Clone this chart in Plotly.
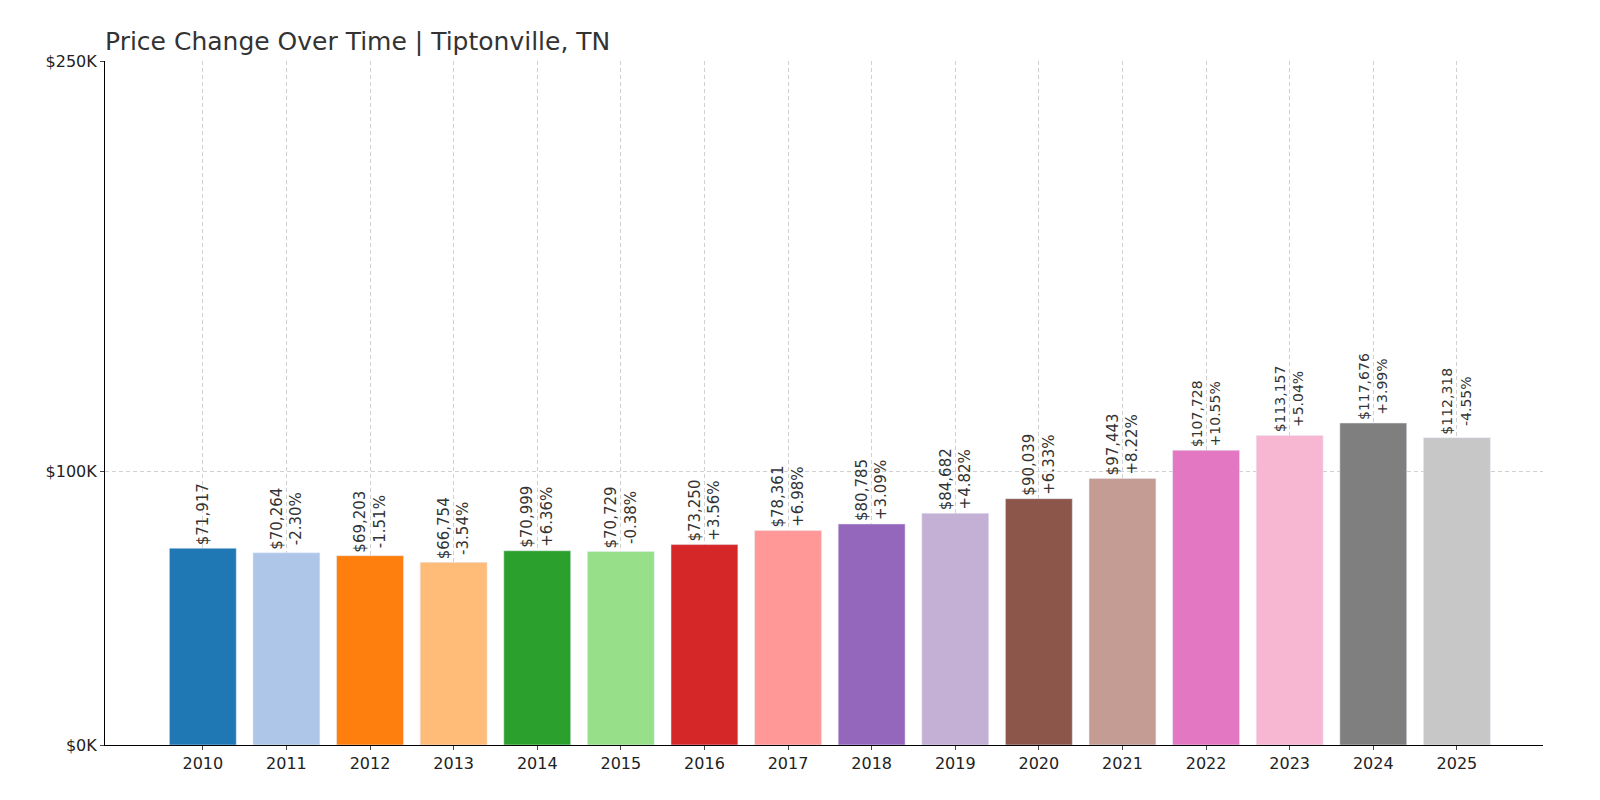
import plotly.graph_objects as go

years = [str(y) for y in range(2010, 2026)]
values = [71917, 70264, 69203, 66754, 70999, 70729, 73250, 78361, 80785, 84682, 90039, 97443, 107728, 113157, 117676, 112318]
changes = [None, "-2.30%", "-1.51%", "-3.54%", "+6.36%", "-0.38%", "+3.56%", "+6.98%", "+3.09%", "+4.82%", "+6.33%", "+8.22%", "+10.55%", "+5.04%", "+3.99%", "-4.55%"]
colors = ["#1f77b4", "#aec7e8", "#ff7f0e", "#ffbb78", "#2ca02c", "#98df8a", "#d62728", "#ff9896",
          "#9467bd", "#c5b0d5", "#8c564b", "#c49c94", "#e377c2", "#f7b6d2", "#7f7f7f", "#c7c7c7"]

labels = [f"${v:,}" + (f"<br>{c}" if c else "") for v, c in zip(values, changes)]

fig = go.Figure(go.Bar(
    x=years, y=values, marker_color=colors, width=0.8,
    text=labels, textposition="outside", textangle=-90, cliponaxis=False,
    textfont=dict(size=15, color="#333", family="DejaVu Sans"),
))
fig.update_layout(
    width=1600, height=800, plot_bgcolor="white", paper_bgcolor="white",
    margin=dict(l=97, r=65, t=53, b=63),
    title=dict(text="Price Change Over Time | Tiptonville, TN", x=97/1600, xanchor="left",
               y=1-33/800, yanchor="middle", font=dict(size=25, color="#333", family="DejaVu Sans")),
    font=dict(family="DejaVu Sans", size=16, color="#222"),
    showlegend=False,
)
grid = dict(showgrid=True, gridcolor="#d0d0d0", griddash="4px,3px", gridwidth=0.8)
fig.update_xaxes(type="category", range=[-1.17, 16.03], **grid,
                 showline=True, linecolor="black", ticks="outside", ticklen=4, tickfont=dict(size=16))
fig.update_yaxes(range=[0, 250000], tickvals=[0, 100000, 250000], ticktext=["$0K", "$100K", "$250K"],
                 **grid, zeroline=False,
                 showline=True, linecolor="black", ticks="outside", ticklen=4, tickfont=dict(size=16))
fig.write_html("out.html")
